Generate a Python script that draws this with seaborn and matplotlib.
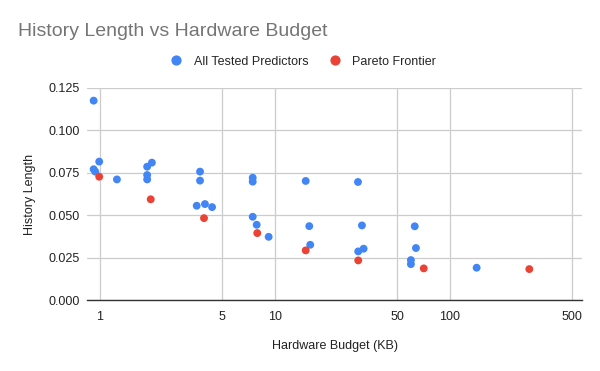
import pandas as pd
import matplotlib
matplotlib.use("Agg")
import matplotlib.pyplot as plt
import seaborn as sns

# all tested predictors (KB, history length)
all_budget = [0.92, 0.92, 0.94, 0.99, 1.25, 1.86, 1.86, 1.86, 1.98,
              3.73, 3.73, 3.57, 3.98, 4.37, 7.46, 7.46, 7.46, 7.86, 9.2,
              14.98, 15.7, 15.9, 29.8, 31.4, 29.9, 32.1,
              62.9, 63.9, 59.8, 59.8, 142]
all_hist = [0.1175, 0.0771, 0.0757, 0.0816, 0.0711, 0.0786, 0.0737, 0.0711, 0.0810,
            0.0757, 0.0704, 0.0556, 0.0566, 0.0548, 0.0721, 0.0698, 0.0491, 0.0444, 0.0373,
            0.0702, 0.0436, 0.0326, 0.0696, 0.0440, 0.0287, 0.0303,
            0.0435, 0.0307, 0.0236, 0.0212, 0.0191]

# pareto frontier
pareto_budget = [0.99, 1.95, 3.93, 7.92, 14.98, 29.9, 70.8, 284]
pareto_hist = [0.0727, 0.0594, 0.0483, 0.0395, 0.0293, 0.0234, 0.0187, 0.0183]

x_ticks = [1, 5, 10, 50, 100, 500]
y_ticks = [0.0, 0.025, 0.05, 0.075, 0.1, 0.125]

df = pd.concat([
    pd.DataFrame({"budget": all_budget, "hist": all_hist, "series": "All Tested Predictors"}),
    pd.DataFrame({"budget": pareto_budget, "hist": pareto_hist, "series": "Pareto Frontier"}),
], ignore_index=True)

sns.set_style("white")
plt.rcParams["font.family"] = ["Liberation Sans", "DejaVu Sans"]

fig = plt.figure(figsize=(6, 3.71), dpi=100)
ax = fig.add_axes([0.145, 0.191, 0.825, 0.572])

palette = {"All Tested Predictors": "#4285F4", "Pareto Frontier": "#EA4335"}
sns.scatterplot(data=df, x="budget", y="hist", hue="series", palette=palette,
                s=32, edgecolor="none", ax=ax, zorder=3)

ax.set_xscale("log")
ax.set_xlim(0.843, 568)
ax.set_ylim(0, 0.125)
ax.set_xticks(x_ticks)
ax.set_xticklabels([str(t) for t in x_ticks])
ax.minorticks_off()
ax.set_yticks(y_ticks)
ax.set_yticklabels([f"{t:.3f}" for t in y_ticks])
ax.tick_params(axis="both", length=0, labelsize=9, colors="#222222")
ax.tick_params(axis="x", pad=8)
ax.tick_params(axis="y", pad=5)
ax.grid(True, color="#cccccc", linewidth=0.9, zorder=0)
for side in ["top", "right", "left"]:
    ax.spines[side].set_visible(False)
ax.spines["bottom"].set_color("#333333")
ax.spines["bottom"].set_linewidth(1.0)

ax.set_xlabel("Hardware Budget (KB)", fontsize=9, color="#222222", labelpad=12)
ax.set_ylabel("History Length", fontsize=9, color="#222222", labelpad=9)

ax.legend_.remove()
handles, labels = ax.get_legend_handles_labels()
fig.legend(handles, labels, loc="center", bbox_to_anchor=(0.5, 0.834), ncol=2,
           frameon=False, fontsize=9, handletextpad=0.4, columnspacing=1.1,
           markerscale=1.3)

fig.text(0.03, 0.915, "History Length vs Hardware Budget", fontsize=14,
         color="#757575", ha="left", va="center")

fig.savefig("out.png", dpi=100)
